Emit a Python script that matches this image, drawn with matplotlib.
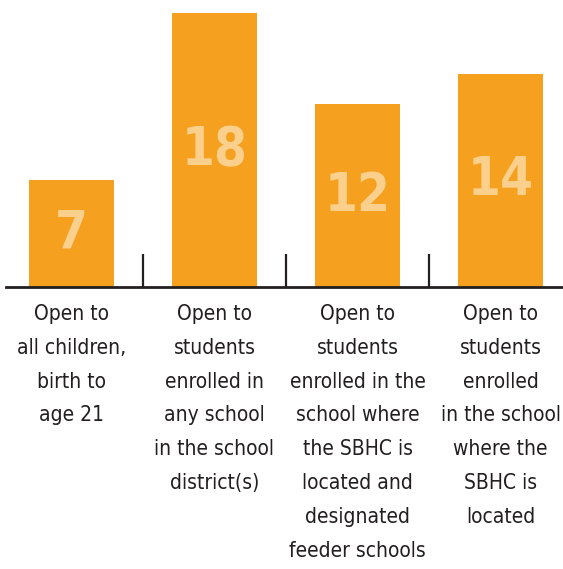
import matplotlib.pyplot as plt

# SBHC counts by who the center is open to
categories = [
    "Open to\nall children,\nbirth to\nage 21",
    "Open to\nstudents\nenrolled in\nany school\nin the school\ndistrict(s)",
    "Open to\nstudents\nenrolled in the\nschool where\nthe SBHC is\nlocated and\ndesignated\nfeeder schools",
    "Open to\nstudents\nenrolled\nin the school\nwhere the\nSBHC is\nlocated",
]
counts = [7, 18, 12, 14]

bar_color = "#F5A01E"
num_color = "#FAD08C"
ink = "#231F20"

fig = plt.figure(figsize=(5.63, 5.69), dpi=100)
ax = fig.add_axes([6 / 563, 0.4956, 557 / 563, 0.4815])

x = range(len(counts))
ax.bar(x, counts, width=0.594, color=bar_color)

for i, v in enumerate(counts):
    ax.text(i, v / 2, str(v), ha="center", va="center",
            fontsize=38, fontweight="bold", color=num_color,
            family="DejaVu Sans", fontstretch="condensed")
    ax.annotate(categories[i], xy=(i, 0), xytext=(0, -12),
                textcoords="offset points", ha="center", va="top",
                fontsize=15, color=ink, linespacing=1.87,
                family="DejaVu Sans", fontstretch="condensed",
                annotation_clip=False)

ax.set_xlim(-0.458, 3.437)
ax.set_ylim(0, 18)

for side in ["top", "left", "right"]:
    ax.spines[side].set_visible(False)
ax.spines["bottom"].set_color(ink)
ax.spines["bottom"].set_linewidth(2)

# separator ticks between categories
ax.set_xticks([0.5, 1.5, 2.5])
ax.set_xticklabels([])
ax.tick_params(axis="x", direction="in", length=24, width=1.6, color=ink)
ax.set_yticks([])

fig.savefig("out.png", dpi=100)
